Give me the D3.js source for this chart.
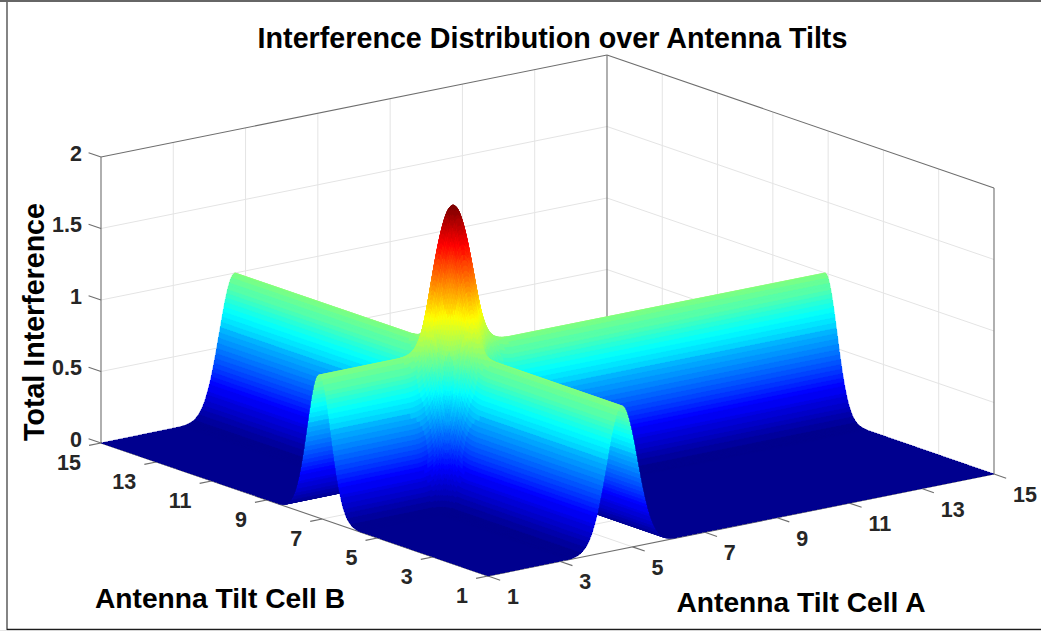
<!DOCTYPE html>
<html><head><meta charset="utf-8">
<script src="https://cdn.jsdelivr.net/npm/d3@7/dist/d3.min.js"></script>
<style>html,body{margin:0;padding:0;background:#fff}svg{display:block}text{font-family:"Liberation Sans",Arial,sans-serif;font-weight:bold}</style>
</head><body><svg id="c" width="1041" height="631"></svg>
<script>
const titleText = "Interference Distribution over Antenna Tilts";
const labelA = "Antenna Tilt Cell A";
const labelB = "Antenna Tilt Cell B";
const labelZ = "Total Interference";
const tiltTicks = [1,3,5,7,9,11,13,15];
const zTicks = [0,0.5,1,1.5,2];
const zTickLabels = ["0","0.5","1","1.5","2"];
const ridgeCellA = 4.7;
const ridgeCellB = 7.1;
// ridge height read at offsets of 0.025 tilt steps from the ridge centre
const ridgeStep = 0.025;
const ridgeProfile = [1,.998,.993,.985,.973,.958,.939,.918,.895,.869,.841,.811,.779,.746,.712,.677,.641,.606,.570,.534,.499,.465,.432,.399,.368,.338,.309,.282,.256,.232,.210,.189,.169,.151,.134,.119,.105,.093,.082,.071,.062,.054,.047,.040,.035,.030,.025,.022,.018,.016,.013,.011,.009,.008,.006,.005,.004,.004,.003,.002,.002];
const jetStops = ["#00008f","#0000ff","#00ffff","#ffff00","#ff0000","#800000"];
const jetDomain = [0,.125,.375,.625,.875,1];

const svg = d3.select("#c");
const ox = 488, oy = 576;
const aX = d3.scaleLinear([1,15],[0,506]), aY = d3.scaleLinear([1,15],[0,-102]);
const bX = d3.scaleLinear([1,15],[0,-387]), bY = d3.scaleLinear([1,15],[0,-133]);
const zY = d3.scaleLinear([0,2],[0,-286]);
const P = (a,b,z=0)=>[ox+aX(a)+bX(b), oy+aY(a)+bY(b)+zY(z)];
const line = d3.line();
const jetBase = d3.scaleLinear(jetDomain,jetStops);
const jet = d3.scaleQuantize([0,2], d3.range(64).map(i=>jetBase(i/63)));

const ink="#262626", edge="#6e6e6e", grid="#e4e4e4";
const seg=(p,q,c,w)=>svg.append("path").attr("d",line([p,q])).attr("fill","none").attr("stroke",c).attr("stroke-width",w);
// frame
seg([0,1],[1041,1],"#666",2);
seg([7,0],[7,630],"#666",1.6);
seg([7,629.5],[1041,629.5],"#1c1c1c",1.6);
seg([0,630.6],[1041,630.6],"#dcdcdc",0.8);

// grid on walls & floor
tiltTicks.slice(1,-1).forEach(t=>{
  seg(P(t,15,0),P(t,15,2),grid,1);
  seg(P(15,t,0),P(15,t,2),grid,1);
  seg(P(t,1,0),P(t,15,0),grid,1);
  seg(P(1,t,0),P(15,t,0),grid,1);
});
zTicks.slice(1,-1).forEach(z=>{
  seg(P(1,15,z),P(15,15,z),grid,1);
  seg(P(15,15,z),P(15,1,z),grid,1);
});
// box
seg(P(1,15,0),P(1,15,2),edge,1.1);
seg(P(15,15,0),P(15,15,2),edge,1.1);
seg(P(15,1,0),P(15,1,2),edge,1.1);
seg(P(1,15,2),P(15,15,2),edge,1.1);
seg(P(15,15,2),P(15,1,2),edge,1.1);
seg(P(1,1,0),P(15,1,0),edge,1.1);
seg(P(1,1,0),P(1,15,0),edge,1.1);
// ticks
tiltTicks.forEach(t=>{
  seg(P(t,1,0),P(t,1-0.44,0),edge,1.1);
  seg(P(1,t,0),P(1-0.33,t,0),edge,1.1);
});
zTicks.forEach(z=>seg(P(1,15,z),P(1,15.45,z),edge,1.1));

// surface
const offs = ridgeProfile.map((_,i)=>i*ridgeStep);
const sampled = c=>{
  const s=[...offs.slice(1).reverse().map(d=>c-d),...offs.map(d=>c+d)];
  return [1,...s.filter(v=>v>1&&v<15),15];
};
const h = (c,v)=>{const i=Math.round(Math.abs(v-c)/ridgeStep);return i<ridgeProfile.length?ridgeProfile[i]:0;};
const As = sampled(ridgeCellA), Bs = sampled(ridgeCellB);
const cells=[];
for(let i=As.length-2;i>=0;i--)for(let j=Bs.length-2;j>=0;j--){
  const a0=As[i],a1=As[i+1],b0=Bs[j],b1=Bs[j+1];
  const z=(a,b)=>h(ridgeCellA,a)+h(ridgeCellB,b);
  const zs=[z(a0,b0),z(a1,b0),z(a1,b1),z(a0,b1)];
  cells.push({pts:[P(a0,b0,zs[0]),P(a1,b0,zs[1]),P(a1,b1,zs[2]),P(a0,b1,zs[3])],m:d3.mean(zs)});
}
svg.append("g").style("filter","blur(0.6px)").attr("shape-rendering","crispEdges").selectAll("path").data(cells).join("path")
  .attr("d",d=>line(d.pts)+"Z")
  .attr("fill",d=>jet(d.m)).attr("stroke",d=>jet(d.m)).attr("stroke-width",0.5).attr("stroke-linejoin","round");

// tick labels
const tick=(x,y,s,anchor)=>svg.append("text").attr("x",x).attr("y",y).attr("text-anchor",anchor).attr("dominant-baseline","central").attr("font-size",21.5).attr("fill",ink).text(s);
tiltTicks.forEach(t=>{
  const p=P(t,1,0); tick(p[0]+19,p[1]+21,t,"start");
  const q=P(1,t,0); tick(q[0]-20,q[1]+19.5,t,"end");
});
zTicks.forEach((z,i)=>{const p=P(1,15,z); tick(82,p[1]-3.5,zTickLabels[i],"end");});

// titles
const big=(x,y,s,size,anchor)=>svg.append("text").attr("x",x).attr("y",y).attr("text-anchor",anchor).attr("dominant-baseline","central").attr("font-size",size).attr("fill","#000").text(s);
big(552.5,38,titleText,28.7,"middle");
big(220,598,labelB,28.2,"middle");
big(801,602,labelA,28.2,"middle");
big(0,0,labelZ,28.6,"middle").attr("transform","translate(34,322) rotate(-90)");
</script></body></html>
